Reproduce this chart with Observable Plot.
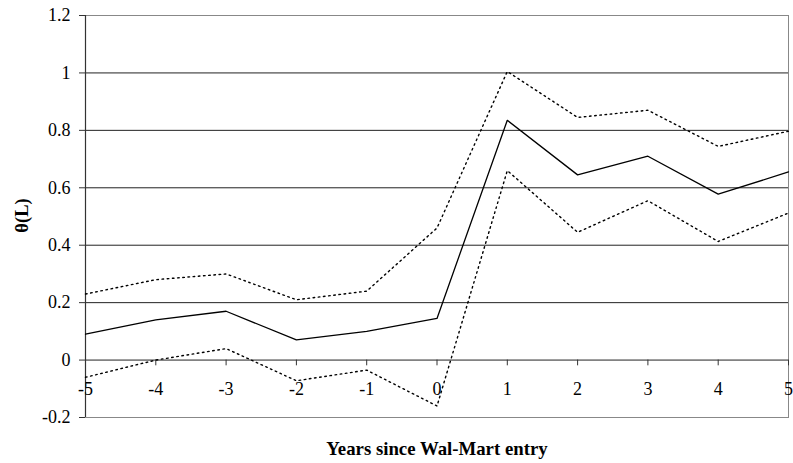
<!DOCTYPE html>
<html>
<head>
<meta charset="utf-8">
<script src="https://cdn.jsdelivr.net/npm/d3@7"></script>
<script src="https://cdn.jsdelivr.net/npm/@observablehq/plot@0.6"></script>
<style>
  html, body { margin: 0; padding: 0; background: #fff; }
  #chart svg { display: block; font-family: "Liberation Serif", "Times New Roman", serif !important; }
  #chart svg text { font-family: "Liberation Serif", "Times New Roman", serif !important; }
</style>
</head>
<body>
<div id="chart"></div>
<script>
// Years relative to Wal-Mart entry
const years = [-5, -4, -3, -2, -1, 0, 1, 2, 3, 4, 5];
// Point estimate of θ(L)
const estimate = [0.09, 0.14, 0.17, 0.07, 0.10, 0.145, 0.835, 0.645, 0.71, 0.578, 0.655];
// Upper and lower confidence bounds
const upper = [0.23, 0.28, 0.30, 0.21, 0.24, 0.46, 1.005, 0.845, 0.87, 0.744, 0.797];
const lower = [-0.06, 0.0, 0.04, -0.072, -0.035, -0.16, 0.66, 0.445, 0.555, 0.413, 0.512];
// Axis ticks
const yTicks = [-0.2, 0, 0.2, 0.4, 0.6, 0.8, 1, 1.2];
const xTicks = years;
const yLabel = "θ(L)";
const xLabel = "Years since Wal-Mart entry";

const pts = (vals) => years.map((x, i) => ({x, y: vals[i]}));
const fmt = (d) => String(+d.toFixed(1));
const font = "'Liberation Serif', 'Times New Roman', serif";

const chart = Plot.plot({
  width: 793,
  height: 463,
  marginLeft: 85,
  marginRight: 5,
  marginTop: 15,
  marginBottom: 46,
  style: {fontFamily: font, fontSize: "18px", color: "#000", background: "#fff"},
  x: {type: "linear", domain: [-5, 5], axis: null},
  y: {domain: [-0.2, 1.2], axis: null},
  marks: [
    Plot.ruleY(yTicks, {stroke: "#222", strokeWidth: 1}),
    Plot.frame({stroke: "#888", strokeWidth: 1}),
    Plot.ruleX([-5], {stroke: "#333", strokeWidth: 1.2}),
    Plot.axisY(yTicks, {
      tickSize: 6, tickPadding: 9, tickFormat: fmt, fontSize: 18,
      stroke: "#333", label: null
    }),
    Plot.ruleX(xTicks, {x: d => d, y1: 0, y2: -0.02, stroke: "#333"}),
    Plot.text(xTicks, {x: d => d, y: 0, dy: 29, text: d => String(d), fontSize: 18, fill: "#000"}),
    Plot.line(pts(upper), {x: "x", y: "y", stroke: "#000", strokeWidth: 1.4, strokeDasharray: "1.6,3.6"}),
    Plot.line(pts(lower), {x: "x", y: "y", stroke: "#000", strokeWidth: 1.4, strokeDasharray: "1.6,3.6"}),
    Plot.line(pts(estimate), {x: "x", y: "y", stroke: "#000", strokeWidth: 1.3}),
    Plot.text([xLabel], {
      frameAnchor: "bottom", lineAnchor: "middle", textAnchor: "middle", dy: 31,
      text: d => d, fontWeight: "bold", fontSize: 18.8, fill: "#000"
    }),
    Plot.text([yLabel], {
      frameAnchor: "left", lineAnchor: "middle", textAnchor: "middle", dx: -63, dy: -1, rotate: -90,
      text: d => d, fontWeight: "bold", fontSize: 18.5, fill: "#000"
    })
  ]
});
document.getElementById("chart").appendChild(chart);
</script>
</body>
</html>
